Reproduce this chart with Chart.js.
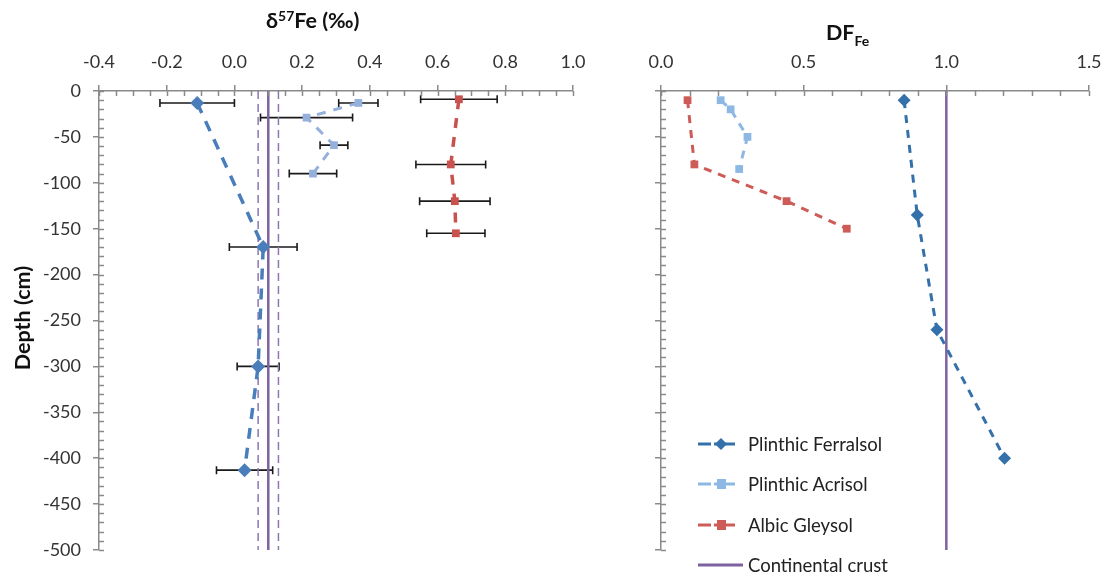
<!DOCTYPE html>
<html>
<head>
<meta charset="utf-8">
<script src="https://cdn.jsdelivr.net/npm/chart.js@4.4.0/dist/chart.umd.min.js"></script>
<style>
body { margin:0; background:#fff; font-family: Lato, sans-serif; }
#wrap { position:relative; width:1107px; height:577px; overflow:hidden; }
#c1 { position:absolute; left:0; top:0; }
#c2 { position:absolute; left:600px; top:0; }
.ttl { position:absolute; font-weight:bold; font-size:21.5px; color:#111; white-space:nowrap; line-height:24px; }
.ttl .sp { font-size:14px; position:relative; top:-7px; }
.ttl .sb { font-size:14px; position:relative; top:6px; }
.ytl { position:absolute; left:-78px; top:306px; width:200px; text-align:center; transform:rotate(-90deg); }
.leg { position:absolute; left:698px; height:22px; white-space:nowrap; }
.leg svg { position:absolute; left:0; top:4px; }
.leg span { position:absolute; left:50px; top:0; font-size:18.5px; line-height:22px; color:#222; }
</style>
</head>
<body>
<div id="wrap">
  <canvas id="c1" width="600" height="577"></canvas>
  <canvas id="c2" width="530" height="577"></canvas>
  <div class="ttl" style="left:266px; top:8px;">δ<span class="sp">57</span>Fe (‰)</div>
  <div class="ttl" style="left:826px; top:20px;">DF<span class="sb">Fe</span></div>
  <div class="ttl ytl">Depth (cm)</div>

  <div class="leg" style="top:433px;">
    <svg width="45" height="14"><line x1="0" y1="7" x2="13" y2="7" stroke="#3470AA" stroke-width="3"/><line x1="16" y1="7" x2="37" y2="7" stroke="#3470AA" stroke-width="3"/><polygon points="23,1 29,7 23,13 17,7" fill="#3470AA"/></svg>
    <span>Plinthic Ferralsol</span>
  </div>
  <div class="leg" style="top:473px;">
    <svg width="45" height="14"><line x1="0" y1="7" x2="13" y2="7" stroke="#8DB8E3" stroke-width="3"/><line x1="16" y1="7" x2="37" y2="7" stroke="#8DB8E3" stroke-width="3"/><rect x="19" y="2" width="9" height="10" fill="#8DB8E3"/></svg>
    <span>Plinthic Acrisol</span>
  </div>
  <div class="leg" style="top:514px;">
    <svg width="45" height="14"><line x1="0" y1="7" x2="13" y2="7" stroke="#CD5B57" stroke-width="3"/><line x1="16" y1="7" x2="37" y2="7" stroke="#CD5B57" stroke-width="3"/><rect x="19" y="2" width="9" height="10" fill="#CD5B57"/></svg>
    <span>Albic Gleysol</span>
  </div>
  <div class="leg" style="top:554px;">
    <svg width="45" height="14"><line x1="0" y1="7" x2="45" y2="7" stroke="#7D62A0" stroke-width="3"/></svg>
    <span>Continental crust</span>
  </div>
</div>
<script>
"use strict";
// left panel: delta57Fe (permil) vs depth, err = half width of the error bar
const ferDepth = [-13, -170, -300, -413];
const ferD57 = [-0.11, 0.085, 0.07, 0.03];
const ferErr = [0.11, 0.10, 0.062, 0.083];

const acrDepth = [-13, -29, -59, -90];
const acrD57 = [0.366, 0.213, 0.294, 0.232];
const acrErr = [0.058, 0.136, 0.041, 0.07];

const gleyDepth = [-9, -80, -120, -155];
const gleyD57 = [0.663, 0.639, 0.651, 0.654];
const gleyErr = [0.113, 0.103, 0.104, 0.086];

const crustD57 = 0.10;
const crustErr = 0.03;

// right panel: DF_Fe vs depth
const ferDFDepth = [-10, -135, -260, -400];
const ferDF = [0.852, 0.898, 0.967, 1.204];

const acrDFDepth = [-10, -20, -50, -85];
const acrDF = [0.209, 0.244, 0.303, 0.274];

const gleyDFDepth = [-10, -80, -120, -150];
const gleyDF = [0.093, 0.117, 0.44, 0.651];

const crustDF = 1.0;

const depthRange = [-500, 0];

const tickFont = { family: 'Lato', size: 18 };
const tickColor = '#333';
const axisGrey = '#8a8a8a';

function pts(xs, ys) {
    return xs.map((x, i) => ({ x: x, y: ys[i] }));
}

function vline(x) {
    return [{ x: x, y: depthRange[1] }, { x: x, y: depthRange[0] }];
}

function fmt1(v) {
    if (Math.abs(v) < 1e-9) return '0.0';
    return v.toFixed(1);
}

// black horizontal error bars with end caps
const errorBars = {
    id: 'errorBars',
    beforeDatasetsDraw(chart) {
        const ctx = chart.ctx;
        const xs = chart.scales.x, ys = chart.scales.y;
        ctx.save();
        ctx.strokeStyle = '#1a1a1a';
        ctx.lineWidth = 1.6;
        chart.data.datasets.forEach(ds => {
            if (!ds.errX) return;
            ds.data.forEach((p, i) => {
                const y = ys.getPixelForValue(p.y);
                const x1 = xs.getPixelForValue(p.x - ds.errX[i]);
                const x2 = xs.getPixelForValue(p.x + ds.errX[i]);
                ctx.beginPath();
                ctx.moveTo(x1, y); ctx.lineTo(x2, y);
                ctx.moveTo(x1, y - 4); ctx.lineTo(x1, y + 4);
                ctx.moveTo(x2, y - 4); ctx.lineTo(x2, y + 4);
                ctx.stroke();
            });
        });
        ctx.restore();
    }
};

// inner tick marks (minor + major) like the Excel axes
const innerTicks = {
    id: 'innerTicks',
    afterDraw(chart, args, opts) {
        const ctx = chart.ctx;
        const xs = chart.scales.x, ys = chart.scales.y;
        const area = chart.chartArea;
        ctx.save();
        ctx.strokeStyle = axisGrey;
        ctx.lineWidth = 1.5;
        ctx.beginPath();
        const n = Math.round((xs.max - xs.min) / opts.xStep);
        for (let i = 0; i <= n; i++) {
            const x = Math.round(xs.getPixelForValue(xs.min + i * opts.xStep)) + 0.5;
            ctx.moveTo(x, area.top);
            ctx.lineTo(x, area.top + 5);
        }
        for (let v = depthRange[0]; v <= depthRange[1]; v += 10) {
            const y = Math.round(ys.getPixelForValue(v)) + 0.5;
            ctx.moveTo(area.left, y);
            ctx.lineTo(area.left + 5, y);
        }
        ctx.stroke();
        ctx.restore();
    }
};

function xAxis(min, max, step, height) {
    return {
        type: 'linear', position: 'top', min: min, max: max,
        ticks: { stepSize: step, callback: fmt1, font: tickFont, color: tickColor, padding: 12 },
        grid: { drawOnChartArea: false, tickLength: 6, color: axisGrey, lineWidth: 1.5 },
        border: { color: axisGrey, width: 1.5 },
        afterFit: s => { s.height = height; }
    };
}

function yAxis(width, showLabels) {
    return {
        type: 'linear', min: depthRange[0], max: depthRange[1],
        ticks: { stepSize: 50, display: showLabels, font: tickFont, color: tickColor, padding: 12 },
        grid: { drawOnChartArea: false, tickLength: 6, color: axisGrey, lineWidth: 1.5 },
        border: { color: axisGrey, width: 1.5 },
        afterFit: s => { s.width = width; }
    };
}

function series(data, color, style, radius, width, dash) {
    return {
        data: data, showLine: true,
        borderColor: color, backgroundColor: color,
        borderWidth: width, borderDash: dash,
        pointStyle: style, pointRadius: radius, pointBorderWidth: 0
    };
}

const c1 = new Chart(document.getElementById('c1'), {
    type: 'scatter',
    data: {
        datasets: [
            Object.assign(series(pts(ferD57, ferDepth), '#4A7EBB', 'rectRot', 7, 3.5, [11, 9]), { errX: ferErr }),
            Object.assign(series(pts(acrD57, acrDepth), '#95B0DA', 'rect', 5.5, 3, [9, 8]), { errX: acrErr }),
            Object.assign(series(pts(gleyD57, gleyDepth), '#C9524E', 'rect', 5.5, 3.5, [10, 9]), { errX: gleyErr }),
            { data: vline(crustD57), showLine: true, borderColor: '#7D62A0', borderWidth: 2.5, pointRadius: 0 },
            { data: vline(crustD57 - crustErr), showLine: true, borderColor: '#8C76B4', borderWidth: 1.5, borderDash: [8, 5], pointRadius: 0 },
            { data: vline(crustD57 + crustErr), showLine: true, borderColor: '#8C76B4', borderWidth: 1.5, borderDash: [8, 5], pointRadius: 0 }
        ]
    },
    options: {
        responsive: false, animation: false,
        layout: { padding: { left: 0, top: 0, right: 27, bottom: 27 } },
        plugins: { legend: { display: false }, tooltip: { enabled: false }, innerTicks: { xStep: 0.05 } },
        scales: { x: xAxis(-0.4, 1.0, 0.2, 91), y: yAxis(99, true) }
    },
    plugins: [errorBars, innerTicks]
});

const c2 = new Chart(document.getElementById('c2'), {
    type: 'scatter',
    data: {
        datasets: [
            series(pts(ferDF, ferDFDepth), '#3470AA', 'rectRot', 6.5, 3, [8, 7]),
            series(pts(acrDF, acrDFDepth), '#8DB8E3', 'rect', 5.5, 3, [8, 7]),
            series(pts(gleyDF, gleyDFDepth), '#CD5B57', 'rect', 5.5, 3, [8, 7]),
            { data: vline(crustDF), showLine: true, borderColor: '#7D62A0', borderWidth: 2.5, pointRadius: 0 }
        ]
    },
    options: {
        responsive: false, animation: false,
        layout: { padding: { left: 0, top: 0, right: 41, bottom: 27 } },
        plugins: { legend: { display: false }, tooltip: { enabled: false }, innerTicks: { xStep: 0.1 } },
        scales: { x: xAxis(0, 1.5, 0.5, 91), y: yAxis(61, false) }
    },
    plugins: [innerTicks]
});
</script>
</body>
</html>
